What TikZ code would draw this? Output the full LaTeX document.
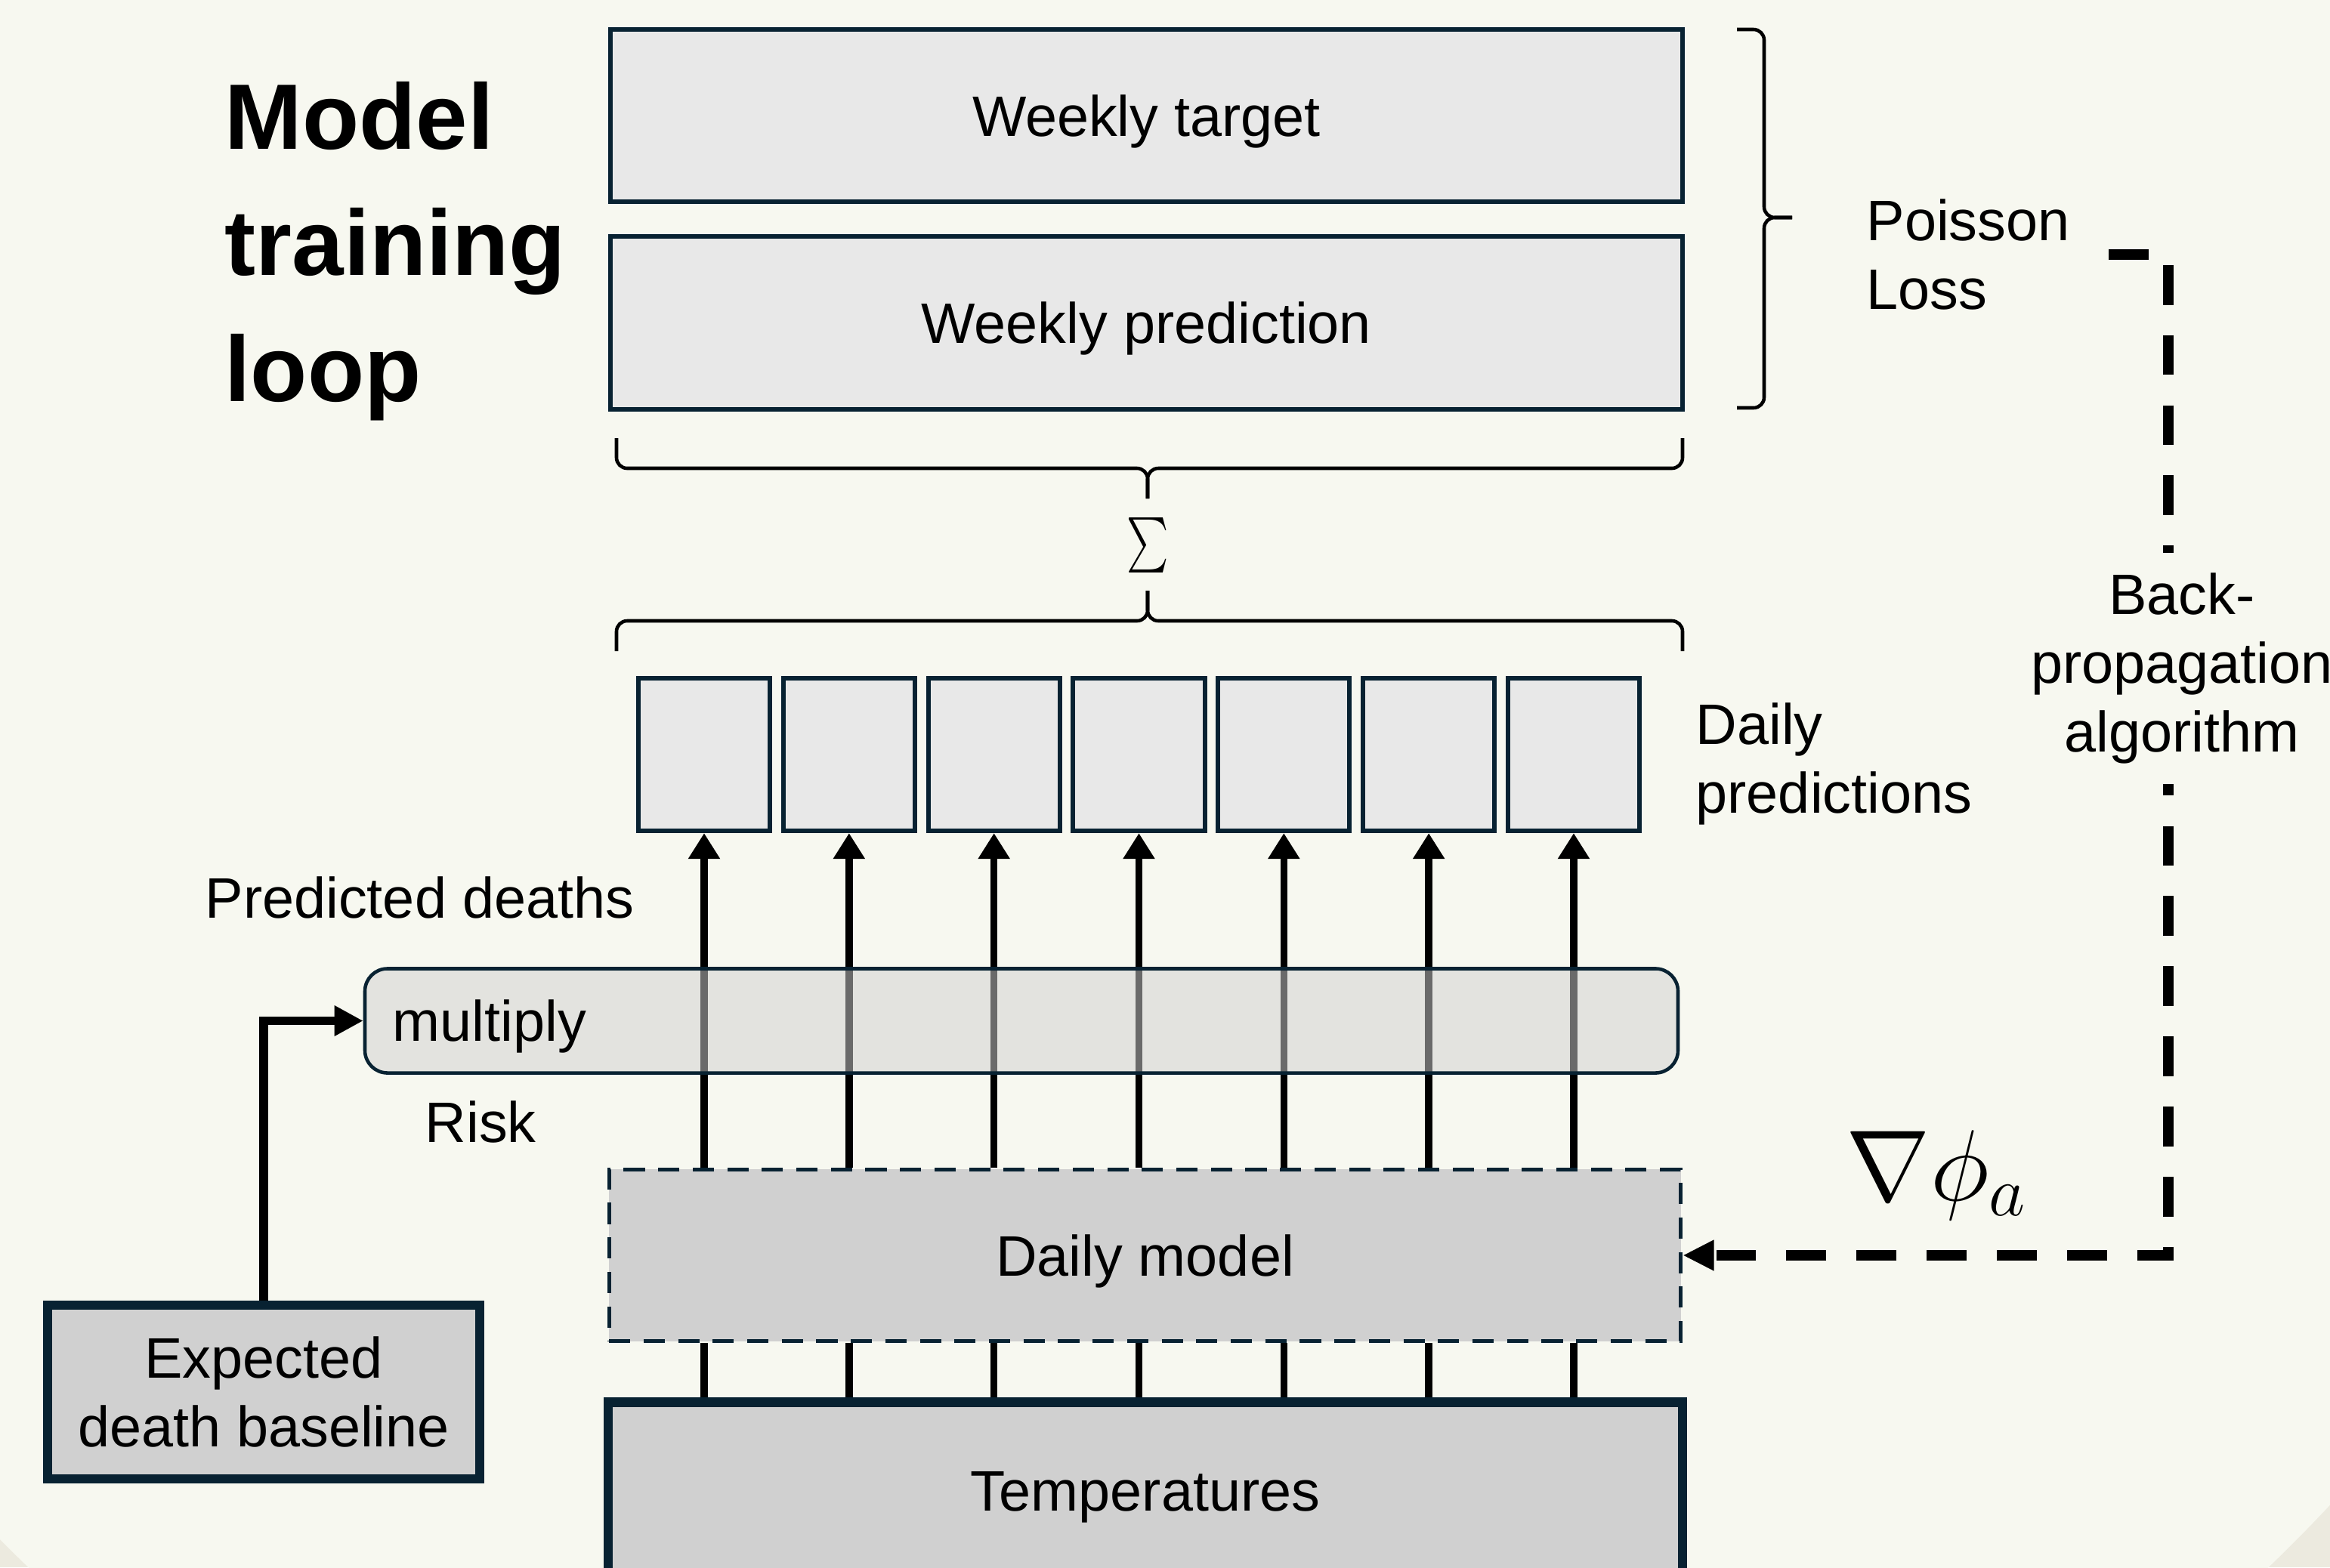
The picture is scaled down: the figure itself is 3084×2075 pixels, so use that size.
\RequirePackage{fix-cm}
\documentclass[tikz,border=0pt]{standalone}
\usepackage{amsmath}
\usepackage{graphicx}
\usepackage{fontspec}
\setmainfont{Liberation Sans}
\usetikzlibrary{arrows.meta,calc}

\definecolor{bgpale}{HTML}{F7F8F0}
\definecolor{bgdark}{HTML}{ECEADF}
\definecolor{navy}{HTML}{082232}
\definecolor{boxlight}{HTML}{E8E8E8}
\definecolor{boxgrey}{HTML}{D0D0D0}
\newcommand{\lblfont}{\fontsize{21.5pt}{25.9pt}\selectfont}
\newcommand{\titlefont}{\fontsize{35pt}{47.5pt}\selectfont\bfseries}

\tikzset{
  lbl/.style={font=\lblfont, inner sep=0pt},
  panel/.style={draw=navy, line width=1.7pt, fill=boxlight, font=\lblfont,
    inner sep=0pt, text height=15.4pt, text depth=0pt},
  daybox/.style={draw=navy, line width=1.7pt, fill=boxlight,
    minimum width=1.74cm, minimum height=2.02cm, inner sep=0pt},
  modelbox/.style={draw=navy, line width=1.4pt, dash pattern=on 8pt off 5pt,
    fill=boxgrey, font=\lblfont, inner sep=0pt, text height=15.4pt, text depth=0pt},
  heavybox/.style={draw=navy, line width=3.6pt, fill=boxgrey, font=\lblfont, inner sep=0pt},
  multbox/.style={draw=navy, line width=1.3pt, rounded corners=8.5pt, fill=boxgrey,
    fill opacity=0.51, text opacity=1, draw opacity=1, font=\lblfont,
    text height=15.4pt, text depth=0pt},
  uparrow/.style={line width=2.7pt, -{Triangle[length=9.7pt,width=11.4pt]}},
  feedline/.style={line width=2.7pt},
  basefeed/.style={line width=3.3pt, -{Triangle[length=10.8pt,width=10.8pt]}},
  backprop/.style={line width=3.9pt, dash pattern=on 15pt off 11.4pt,
    -{Triangle[length=11.7pt,width=10.8pt]}},
  bracket/.style={line width=1.3pt, rounded corners=4pt},
}

\begin{document}
\begin{tikzpicture}[x=0.01cm, y=-0.01cm]
  % canvas and soft background shape
  \useasboundingbox (0,0) rectangle (3084,2075);
  \fill[bgdark] (0,0) rectangle (3084,2075);
  \fill[bgpale] (1520,530) circle[radius=21.4cm];

  % weekly panels
  \node[panel, minimum width=14.19cm, minimum height=2.28cm] (wt) at (1517.5,153) {Weekly target};
  \node[panel, minimum width=14.19cm, minimum height=2.29cm] (wp) at (1517.5,427.5) {Weekly prediction};

  % daily prediction cells
  \foreach \i in {1,...,7}
    \node[daybox] (d\i) at ({932+191.83*(\i-1)},999) {};

  % daily model and inputs
  \node[modelbox, minimum width=14.18cm, minimum height=2.27cm] (dm) at (1515.5,1662) {Daily model};
  \node[heavybox, minimum width=14.21cm, minimum height=2.33cm,
        text height=15.4pt, text depth=0pt] (temps) at (1516,1973) {Temperatures};
  \node[heavybox, line width=3.4pt, minimum width=5.72cm, minimum height=2.30cm,
        align=center] (exp) at (349,1843) {Expected\\death baseline};

  % brackets: loss pair, weekly sum, daily cells
  \draw[bracket] (2299,39) -- (2335,39) -- (2335,288) -- (2372,288);
  \draw[bracket] (2299,540) -- (2335,540) -- (2335,288) -- (2372,288);
  \draw[bracket] (816,580) -- (816,620) -- (1519,620) -- (1519,660);
  \draw[bracket] (2227,580) -- (2227,620) -- (1519,620) -- (1519,660);
  \draw[bracket] (816,862) -- (816,822) -- (1519,822) -- (1519,782);
  \draw[bracket] (2227,862) -- (2227,822) -- (1519,822) -- (1519,782);
  \node (sig) at (1519,722) {\fontsize{21pt}{21pt}\selectfont\scalebox{0.72}[1]{$\textstyle\sum$}};

  % per-day connections
  \foreach \i in {1,...,7} {
    \draw[feedline] (temps.north -| d\i.south) -- (dm.south -| d\i.south);
    \draw[uparrow] (dm.north -| d\i.south) -- (d\i.south);
  }

  % multiply stage (translucent, the day arrows show through)
  \node[multbox, minimum width=17.37cm, minimum height=1.38cm, inner xsep=0.367cm,
        inner ysep=0pt, text width=16.636cm, align=left] (mul) at (1352,1351.5) {multiply};
  \draw[basefeed] (exp.north) |- (mul.west);

  % labels
  \node[lbl, anchor=north west, align=left, font=\titlefont] (title) at (297,108) {Model\\training\\loop};
  \node[lbl, anchor=base west] (pred) at (271,1215) {Predicted deaths};
  \node[lbl, anchor=base west] (risk) at (562,1512) {Risk};
  \node[lbl, anchor=north west, align=left] (dlab) at (2244,930) {Daily\\predictions};
  \node[lbl, anchor=north west, align=left] (loss) at (2470,263) {Poisson\\Loss};
  \node[anchor=base west, inner sep=0pt, font=\fontsize{38pt}{40pt}\selectfont] (grad) at (2443,1589) {$\nabla\phi_a$};

  % back-propagation feedback
  \coordinate (lossout) at (2791,337);
  \draw[backprop] (lossout) -- ++(79,0) |- (dm.east);
  \node[lbl, anchor=north, align=center, fill=bgpale, inner xsep=0.6cm, inner ysep=0.27cm]
    (bp) at (2888,731) {Back-\\propagation\\algorithm};
\end{tikzpicture}
\end{document}
